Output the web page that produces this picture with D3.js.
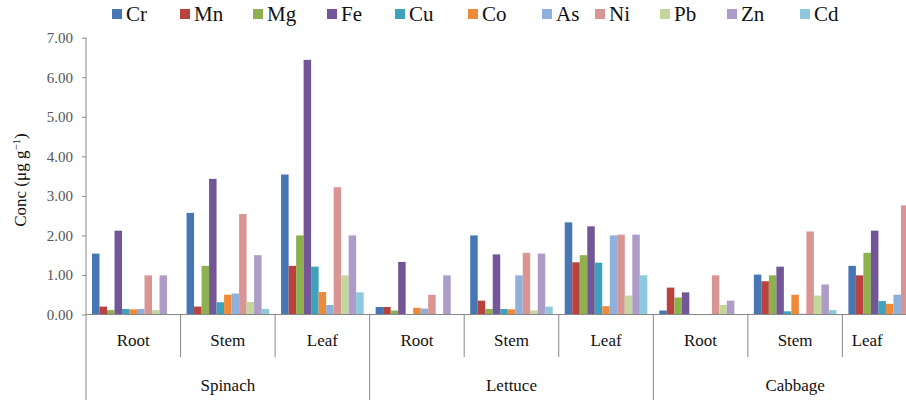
<!DOCTYPE html>
<html><head><meta charset="utf-8">
<script src="https://cdn.jsdelivr.net/npm/d3@7/dist/d3.min.js"></script>
<style>body{margin:0;background:#fff}svg{display:block}svg text{font-family:"Liberation Serif","Times New Roman",serif}</style>
</head><body><svg id="c" width="906" height="400"></svg>
<script>
const vegetables = ["Spinach", "Lettuce", "Cabbage"];
const organs = ["Root", "Stem", "Leaf"];
const elements = ["Cr", "Mn", "Mg", "Fe", "Cu", "Co", "As", "Ni", "Pb", "Zn", "Cd"];
const colors = ["#4676b3", "#b9413e", "#8fb04f", "#735697", "#3fa2bd", "#ef8a3a", "#8fb0db", "#d99494", "#c3d79d", "#ad9cc8", "#8cc9dc"];
// values per element, order: Spinach Root/Stem/Leaf, Lettuce Root/Stem/Leaf, Cabbage Root/Stem/Leaf
const Cr = [1.54, 2.57, 3.54, 0.19, 2.00, 2.33, 0.10, 1.01, 1.23];
const Mn = [0.20, 0.20, 1.23, 0.19, 0.35, 1.32, 0.68, 0.84, 0.99];
const Mg = [0.11, 1.23, 2.00, 0.10, 0.14, 1.50, 0.43, 0.99, 1.56];
const Fe = [2.12, 3.43, 6.44, 1.33, 1.52, 2.23, 0.56, 1.21, 2.12];
const Cu = [0.14, 0.31, 1.21, 0.00, 0.14, 1.31, 0.01, 0.08, 0.34];
const Co = [0.13, 0.50, 0.57, 0.17, 0.13, 0.21, 0.01, 0.50, 0.27];
const As = [0.14, 0.53, 0.24, 0.15, 0.99, 2.00, 0.01, 0.02, 0.50];
const Ni = [0.99, 2.54, 3.22, 0.50, 1.56, 2.02, 0.99, 2.10, 2.76];
const Pb = [0.11, 0.32, 0.99, 0.00, 0.10, 0.48, 0.24, 0.48, null];
const Zn = [0.99, 1.50, 2.00, 0.99, 1.54, 2.02, 0.35, 0.76, null];
const Cd = [0.00, 0.14, 0.56, 0.00, 0.20, 0.99, 0.00, 0.11, null];
const series = [Cr, Mn, Mg, Fe, Cu, Co, As, Ni, Pb, Zn, Cd];
const yTicks = [0, 1, 2, 3, 4, 5, 6, 7];

const svg = d3.select("#c");
const W = 906;
const x0Left = 86, catW = 94.55, yTop = 37.7, yBase = 314.5;
const cats = [];
vegetables.forEach(v => organs.forEach(o => cats.push(v + "|" + o)));
const x0 = d3.scaleBand().domain(cats).range([x0Left, x0Left + catW * cats.length]).padding(0);
const x1 = d3.scaleBand().domain(elements).range([6, catW - 6]).padding(0);
const y = d3.scaleLinear().domain([0, 7]).range([yBase, yTop]);

// bars
elements.forEach((el, i) => {
  const vals = series[i];
  svg.append("g").selectAll("rect").data(cats.map((c, j) => ({c, v: vals[j]})).filter(d => d.v !== null))
    .join("rect")
    .attr("x", d => x0(d.c) + x1(el))
    .attr("width", x1.bandwidth())
    .attr("y", d => y(d.v))
    .attr("height", d => yBase - y(d.v))
    .attr("fill", colors[i]);
});

// y axis
const yAxis = d3.axisLeft(y).tickValues(yTicks).tickFormat(d3.format(".2f")).tickSize(4).tickPadding(9);
const ga = svg.append("g").attr("transform", `translate(${x0Left},0)`).call(yAxis);
ga.select(".domain").remove();
ga.attr("font-family", null);
ga.selectAll(".tick line").attr("stroke", "#888");
ga.selectAll(".tick text").attr("font-size", 15).attr("fill", "#555");
svg.append("line").attr("x1", x0Left).attr("x2", x0Left).attr("y1", yTop).attr("y2", 400).attr("stroke", "#888");
svg.append("line").attr("x1", x0Left).attr("x2", W).attr("y1", yBase).attr("y2", yBase).attr("stroke", "#888");

// category separators and labels
cats.forEach((c, j) => {
  const xl = x0(c);
  if (j > 0) {
    const outer = j % 3 === 0;
    svg.append("line").attr("x1", xl).attr("x2", xl).attr("y1", yBase).attr("y2", outer ? 400 : 357).attr("stroke", "#888");
  }
  const xr = Math.min(xl + catW, W - 14);
  svg.append("text").attr("x", (xl + xr) / 2).attr("y", 346).attr("text-anchor", "middle")
    .attr("font-size", 17).attr("fill", "#111").text(c.split("|")[1]);
});
vegetables.forEach((v, k) => {
  const xl = x0(v + "|Root");
  svg.append("text").attr("x", xl + catW * 1.5).attr("y", 391).attr("text-anchor", "middle")
    .attr("font-size", 17).attr("fill", "#111").text(v);
});

// y title
const t = svg.append("text").attr("transform", "translate(26,180) rotate(-90)").attr("text-anchor", "middle")
  .attr("font-size", 17).attr("fill", "#111");
t.append("tspan").text("Conc (μg g");
t.append("tspan").attr("dy", -6).attr("font-size", 11).text("−1");
t.append("tspan").attr("dy", 6).text(")");

// legend
const legX = [112, 180, 253, 327, 395, 468, 542, 595, 660, 727, 800];
elements.forEach((el, i) => {
  const g = svg.append("g").attr("transform", `translate(${legX[i]},0)`);
  g.append("rect").attr("x", 0).attr("y", 9).attr("width", 10).attr("height", 10).attr("fill", colors[i]);
  g.append("text").attr("x", 14).attr("y", 21).attr("font-size", 21).attr("fill", "#111").text(el);
});
</script></body></html>
